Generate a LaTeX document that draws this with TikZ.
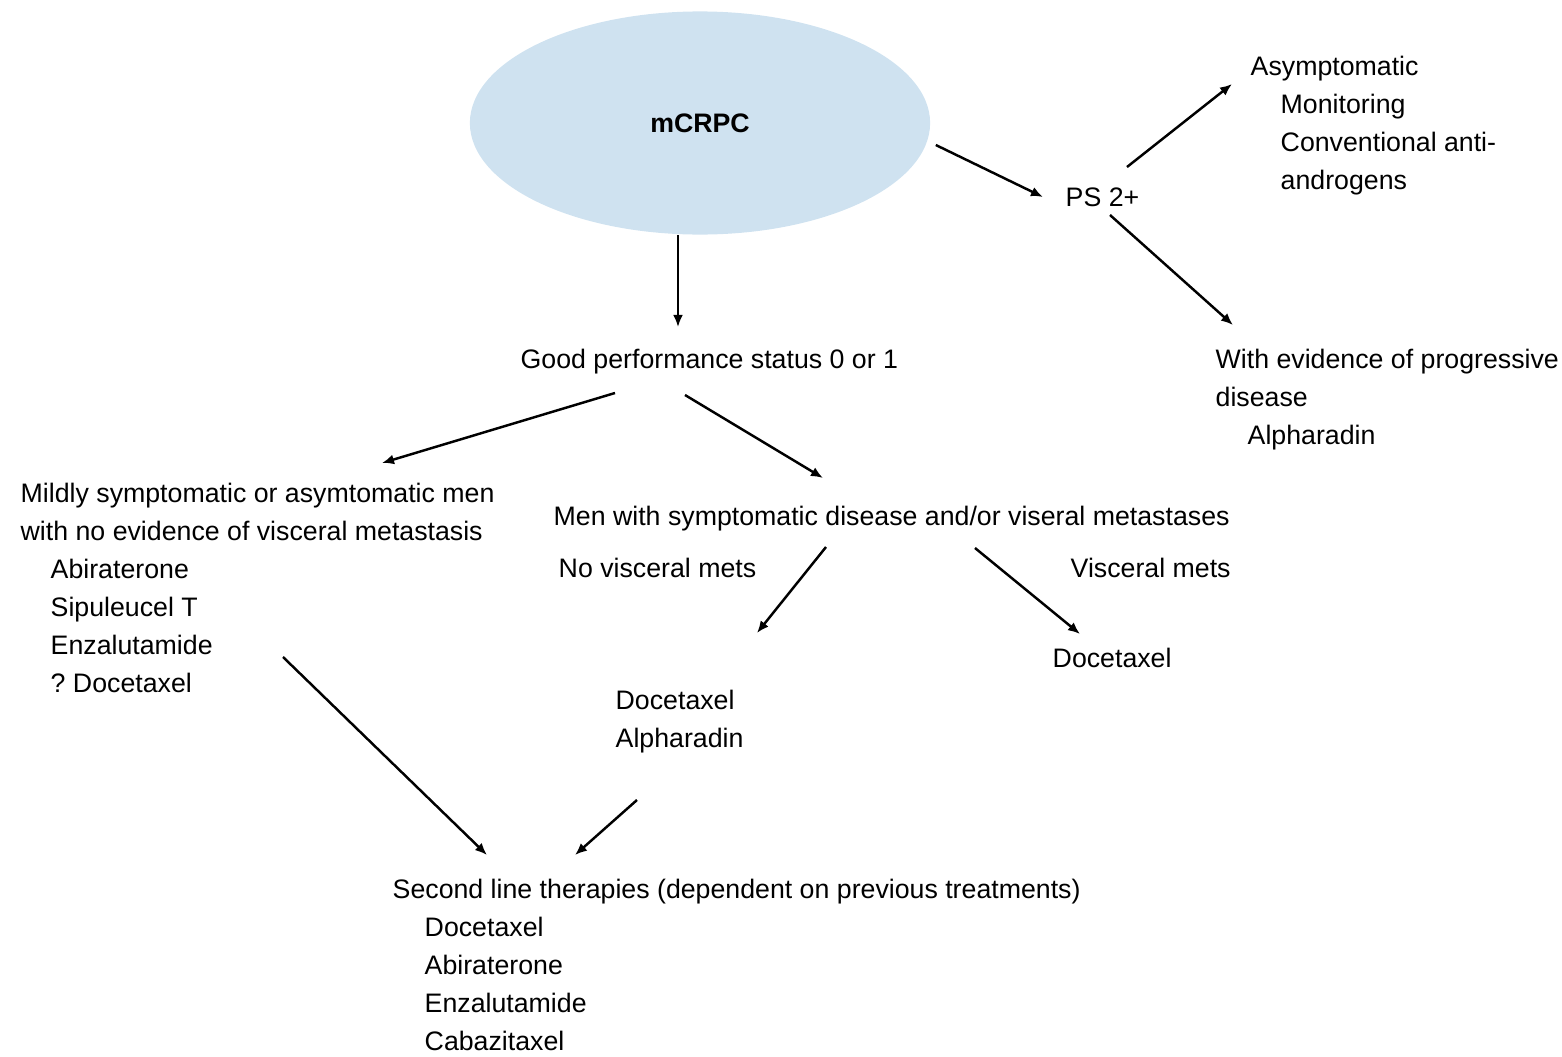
\documentclass[tikz,border=0pt]{standalone}
\usepackage{fontspec}
\setmainfont{Liberation Sans}
\usetikzlibrary{arrows.meta,shapes.geometric}

\definecolor{ellblue}{RGB}{207,226,240}
\tikzset{
  txt/.style={anchor=base west, inner sep=0pt, align=left},
  arr/.style={-{Latex[length=1.2mm,width=1mm]}, line width=0.7pt}
}
\newcommand{\ind}{\hspace*{0.3cm}}

\begin{document}
\begin{tikzpicture}[x=0.01cm, y=-0.01cm, font=\fontsize{7.6}{10.8}\selectfont]
\useasboundingbox (0,0) rectangle (1562,1057);

\node[ellipse, fill=ellblue, minimum width=4.6cm, minimum height=2.23cm] (mcrpc) at (700,123) {\raisebox{-0.5mm}{\bfseries mCRPC}};

% multi-line nodes sit on the baseline of their last line
\node[txt] (ps) at (1065,206) {PS 2+};
\node[txt] (asym) at (1250,189) {Asymptomatic\\ \ind Monitoring\\ \ind Conventional anti-\\ \ind androgens};
\node[txt] (prog) at (1215,444) {With evidence of progressive\\ disease\\ \hspace*{0.32cm}Alpharadin};

\node[txt] (good) at (520,368) {Good performance status 0 or 1};

\node[txt] (mild) at (20,692) {Mildly symptomatic or asymtomatic men\\ with no evidence of visceral metastasis\\ \ind Abiraterone\\ \ind Sipuleucel T\\ \ind Enzalutamide\\ \ind ?\ Docetaxel};
\node[txt] (men) at (553,525) {Men with symptomatic disease and/or viseral metastases};
\node[txt] (novisc) at (558,577) {No visceral mets};
\node[txt] (visc) at (1070,577) {Visceral mets};
\node[txt] (doceR) at (1052,667) {Docetaxel};
\node[txt] (doceL) at (615,747) {Docetaxel\\ Alpharadin};

\node[txt] (second) at (392,1050) {Second line therapies (dependent on previous treatments)\\ \hspace*{0.32cm}Docetaxel\\ \hspace*{0.32cm}Abiraterone\\ \hspace*{0.32cm}Enzalutamide\\ \hspace*{0.32cm}Cabazitaxel};

% top
\draw[arr] ([shift={(-22,0)}]mcrpc.south) -- ([shift={(158,-41)}]good.base west);
\draw[arr] ([shift={(5,22)}]mcrpc.east) -- ([shift={(-22,-9)}]ps.base west);
\draw[arr] ([shift={(62,-39)}]ps.base west) -- ([shift={(-18,-105)}]asym.base west);
\draw[arr] ([shift={(45,9)}]ps.base west) -- ([shift={(18,-119)}]prog.base west);

% middle
\draw[arr] ([shift={(95,25)}]good.base west) -- ([shift={(362,-229)}]mild.base west);
\draw[arr] ([shift={(165,27)}]good.base west) -- ([shift={(270,-47)}]men.base west);
\draw[arr] ([shift={(273,22)}]men.base west) -- ([shift={(142,-114)}]doceL.base west);
\draw[arr] ([shift={(422,23)}]men.base west) -- ([shift={(28,-33)}]doceR.base west);

% bottom
\draw[arr] ([shift={(263,-35)}]mild.base west) -- ([shift={(95,-195)}]second.base west);
\draw[arr] ([shift={(22,53)}]doceL.base west) -- ([shift={(183,-195)}]second.base west);
\end{tikzpicture}
\end{document}
